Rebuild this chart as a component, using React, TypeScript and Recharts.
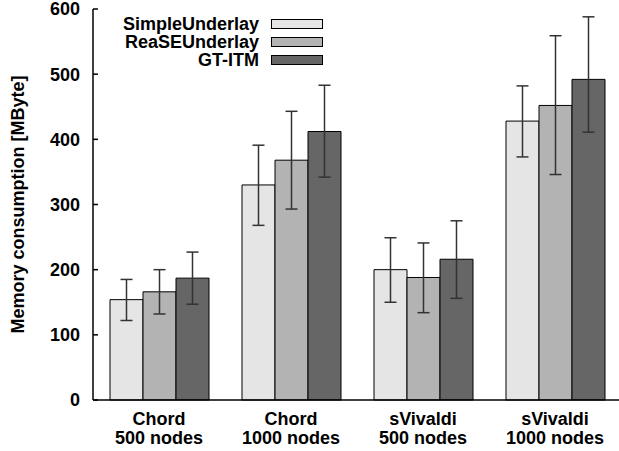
import { Bar, BarChart, ErrorBar, XAxis, YAxis } from "recharts";

const categoryNames = ["Chord", "Chord", "sVivaldi", "sVivaldi"];
const nodeCounts = ["500 nodes", "1000 nodes", "500 nodes", "1000 nodes"];

const simpleUnderlay = [154, 330, 200, 428];
const simpleLow = [122, 268, 150, 373];
const simpleHigh = [185, 391, 249, 482];

const reaseUnderlay = [166, 368, 188, 452];
const reaseLow = [132, 293, 134, 346];
const reaseHigh = [200, 443, 241, 559];

const gtItm = [187, 412, 216, 492];
const gtItmLow = [147, 342, 156, 411];
const gtItmHigh = [227, 483, 275, 588];

const yTicks = [0, 100, 200, 300, 400, 500, 600];

const SERIES = [
  { key: "simple", label: "SimpleUnderlay", color: "#e5e5e5" },
  { key: "rease", label: "ReaSEUnderlay", color: "#b3b3b3" },
  { key: "gtitm", label: "GT-ITM", color: "#666666" },
];

const FONT = "'Liberation Sans', Arial, Helvetica, sans-serif";

const data = categoryNames.map((name, i) => ({
  name: `${name} ${nodeCounts[i]}`,
  simple: simpleUnderlay[i],
  simpleErr: [simpleUnderlay[i] - simpleLow[i], simpleHigh[i] - simpleUnderlay[i]],
  rease: reaseUnderlay[i],
  reaseErr: [reaseUnderlay[i] - reaseLow[i], reaseHigh[i] - reaseUnderlay[i]],
  gtitm: gtItm[i],
  gtitmErr: [gtItm[i] - gtItmLow[i], gtItmHigh[i] - gtItm[i]],
}));

function CategoryTick(props: any) {
  const { x, y, index } = props;
  return (
    <text
      x={x}
      y={y}
      textAnchor="middle"
      fontFamily={FONT}
      fontWeight="bold"
      fontSize={18}
      fill="#000"
    >
      <tspan x={x} dy={17}>{categoryNames[index]}</tspan>
      <tspan x={x} dy={19}>{nodeCounts[index]}</tspan>
    </text>
  );
}

function AxisTitle(props: any) {
  const vb = props.viewBox || {};
  const cy = (vb.y ?? 0) + (vb.height ?? 0) / 2;
  return (
    <text
      x={18}
      y={cy}
      transform={`rotate(-90, 18, ${cy})`}
      textAnchor="middle"
      dominantBaseline="central"
      fontFamily={FONT}
      fontWeight="bold"
      fontSize={18}
      fill="#000"
    >
      Memory consumption [MByte]
    </text>
  );
}

function ChartLegend() {
  return (
    <div style={{ position: "absolute", left: 0, top: 15, fontFamily: FONT }}>
      {SERIES.map((s, i) => (
        <div
          key={s.key}
          style={{
            position: "absolute",
            top: i * 18,
            left: 0,
            width: 323,
            height: 18,
            display: "flex",
            alignItems: "center",
            justifyContent: "flex-end",
          }}
        >
          <span style={{ fontWeight: "bold", fontSize: 18, lineHeight: "18px", whiteSpace: "nowrap" }}>
            {s.label}
          </span>
          <span
            style={{
              display: "inline-block",
              marginLeft: 12,
              width: 50,
              height: 8,
              background: s.color,
              border: "1px solid #000",
            }}
          />
        </div>
      ))}
    </div>
  );
}

export default function App() {
  return (
    <div style={{ position: "absolute", left: 0, top: 0, width: 619, height: 451, background: "#fff" }}>
      <BarChart
        width={619}
        height={451}
        data={data}
        margin={{ top: 9, right: -2, bottom: 0, left: 0 }}
        barGap={0}
        barSize={33}
      >
        <XAxis
          dataKey="name"
          height={51}
          axisLine={{ stroke: "#000", strokeWidth: 1.5 }}
          tickLine={false}
          tick={<CategoryTick />}
          interval={0}
        />
        <XAxis
          xAxisId="top"
          dataKey="name"
          orientation="top"
          height={0}
          mirror
          tick={false}
          tickSize={5}
          tickLine={{ stroke: "#000", strokeWidth: 1.5 }}
          axisLine={{ stroke: "#000", strokeWidth: 1.5 }}
        />
        <YAxis
          yAxisId="left"
          width={93}
          domain={[0, 600]}
          ticks={yTicks}
          interval={0}
          tickSize={-5}
          tickMargin={18}
          axisLine={{ stroke: "#000", strokeWidth: 1.5 }}
          tickLine={{ stroke: "#000", strokeWidth: 1.5 }}
          tick={{ fontFamily: FONT, fontWeight: "bold", fontSize: 18, fill: "#000" }}
          label={<AxisTitle />}
        />
        <YAxis
          yAxisId="right"
          orientation="right"
          width={0}
          domain={[0, 600]}
          ticks={yTicks}
          interval={0}
          tickSize={-5}
          tick={false}
          axisLine={{ stroke: "#000", strokeWidth: 1.5 }}
          tickLine={{ stroke: "#000", strokeWidth: 1.5 }}
        />
        {SERIES.map((s) => (
          <Bar
            key={s.key}
            yAxisId="left"
            dataKey={s.key}
            fill={s.color}
            stroke="#000"
            strokeWidth={1}
            isAnimationActive={false}
          >
            <ErrorBar
              dataKey={`${s.key}Err`}
              width={6}
              stroke="#333"
              strokeWidth={1.5}
              isAnimationActive={false}
            />
          </Bar>
        ))}
      </BarChart>
      <ChartLegend />
    </div>
  );
}
